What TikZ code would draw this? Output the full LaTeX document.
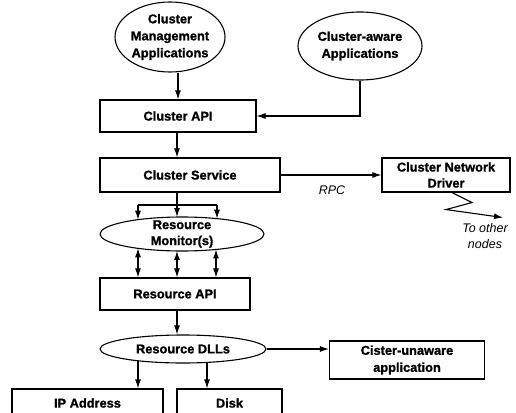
\documentclass[tikz,border=0pt]{standalone}
\usepackage{fontspec}
\setmainfont{Liberation Sans}[BoldFeatures={FakeBold=1.2}]
\usetikzlibrary{shapes.geometric,arrows.meta}
\begin{document}
\begin{tikzpicture}[x=1pt,y=-1pt,line width=1.1pt,
  box/.style={draw,rectangle,inner sep=0pt,font=\bfseries\fontsize{12.8}{17}\selectfont,align=center},
  oval/.style={draw,ellipse,inner sep=0pt},
  txt/.style={inner sep=0pt,font=\bfseries\fontsize{12.8}{17}\selectfont,align=center},
  note/.style={inner sep=0pt,font=\itshape\fontsize{12.5}{16}\selectfont,align=center},
  arr/.style={-{Latex[length=9pt,width=6pt]}},
  dbl/.style={{Latex[length=9pt,width=6pt]}-{Latex[length=9pt,width=6pt]}}]

\useasboundingbox (0,0) rectangle (516,412);
\clip (0,0) rectangle (516,412);

\node (cma) at (170,37) [oval, minimum width=110, minimum height=70] {};
\node (cmat) at (cma) [txt] {Cluster\\Management\\Applications};

\node (caw) at (360,46) [oval, minimum width=124, minimum height=68] {};
\node (cawt) at (caw) [txt] {Cluster-aware\\Applications};

\node (api) at (178,116) [box, minimum width=156, minimum height=32] {Cluster API};
\node (svc) at (190,175) [box, minimum width=180, minimum height=34] {Cluster Service};
\node (drv) at (446,175) [box, minimum width=128, minimum height=34, font=\bfseries\fontsize{12.8}{16}\selectfont] {Cluster Network\\Driver};

\node (mon) at (182,234) [oval, minimum width=164, minimum height=34] {};
\node (mont) at (mon) [txt, font=\bfseries\fontsize{12.8}{16}\selectfont] {Resource\\Monitor(s)};

\node (rapi) at (175,294) [box, minimum width=150, minimum height=32] {Resource API};

\node (dll) at (183,349) [oval, minimum width=166, minimum height=28] {};
\node (dllt) at (dll) [txt] {Resource DLLs};

\node (cua) at (407,360) [box, minimum width=155, minimum height=38] {Cister-unaware\\application};

\node (ip) at (87.5,403) [box, minimum width=151, minimum height=28] {IP Address};
\node (disk) at (229.5,403) [box, minimum width=105, minimum height=28] {Disk};

\node (rpc) at (332,190) [note] {RPC};
\node (oth) at (485,236) [note] {To other\\nodes};

\coordinate (bst) at (177,205);

\draw [arr] (api.north |- cma.south) -- (api.north);
\draw [arr] (caw.south) |- (api.east);
\draw [arr] (api.south -| bst) -- (bst |- svc.north);
\draw [arr] (svc.east) -- (drv.west);
\draw [arr] ([xshift=6pt]drv.south) -- ++(20,10) -- ++(-26,7) -- ++(57,8);

\draw (svc.south -| bst) -- (bst);
\draw (138,205) -- (217,205);
\foreach \x in {138,177,217}
  \draw [arr] (\x,205) -- (\x,{234-17*sqrt(1-((\x-182)/82)^2)});
\foreach \x in {138,177,216}
  \draw [dbl] (\x,{234+17*sqrt(1-((\x-182)/82)^2)}) -- (\x,0 |- rapi.north);

\draw [arr] (rapi.south -| bst) -- (bst |- dll.north);
\draw [arr] (dll.east) -- (cua.west |- dll.east);
\foreach \x in {138,207}
  \draw [arr] (\x,{349+14*sqrt(1-((\x-183)/83)^2)}) -- (\x,0 |- ip.north);

\end{tikzpicture}
\end{document}
